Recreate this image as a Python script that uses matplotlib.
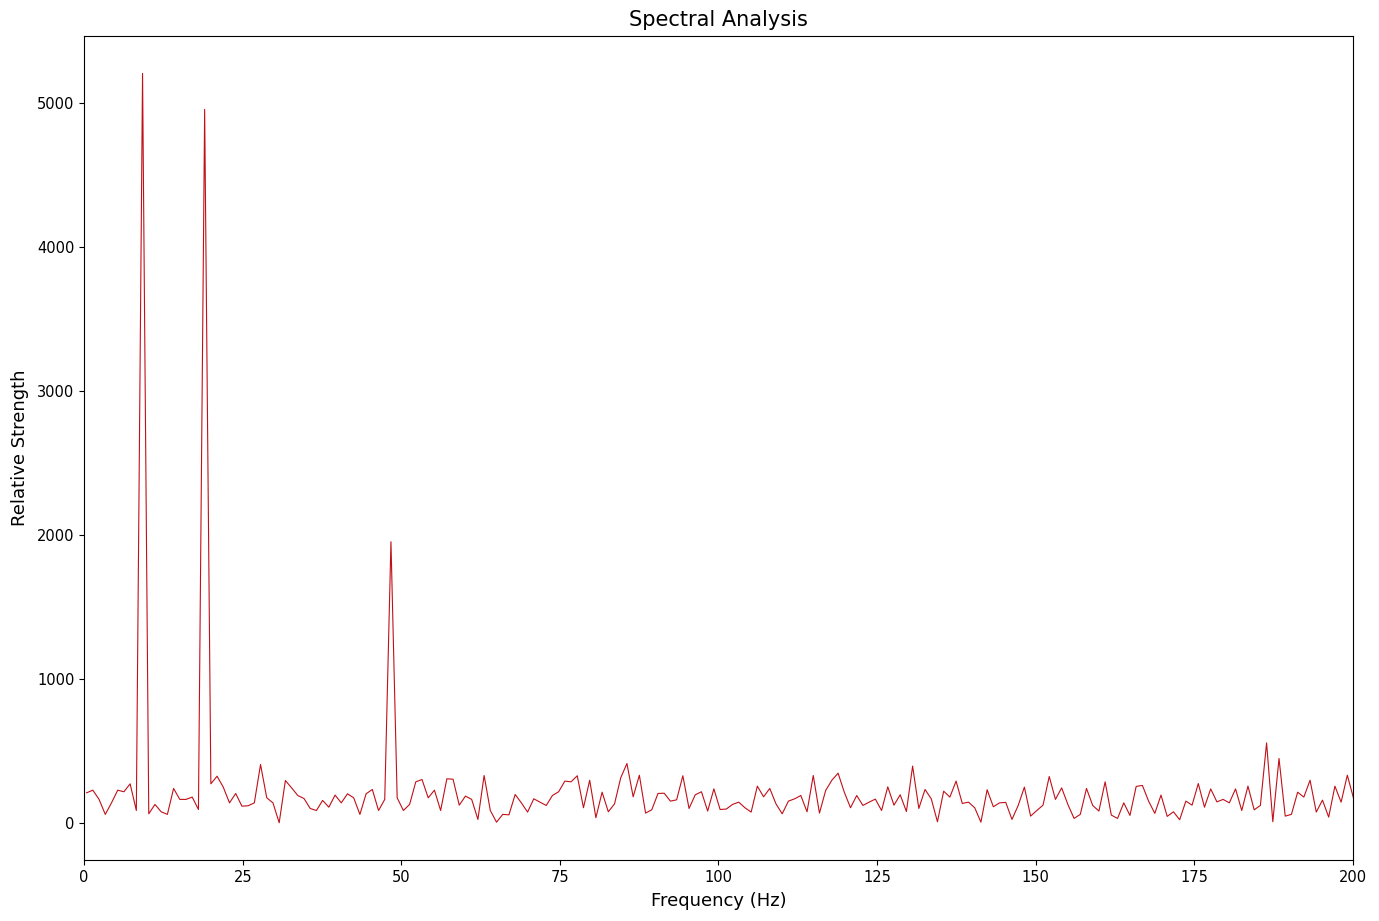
import numpy as np
import matplotlib
matplotlib.use("Agg")
import matplotlib.pyplot as plt

# frequency grid of the spectrum (Hz): first bin and bin width
f_start = 0.4
f_step = 0.979

# relative strength per frequency bin
strength = [
    213, 231, 167, 63, 143, 231, 220, 275, 90, 5205,
    67, 132, 81, 63, 243, 167, 167, 183, 97, 4955,
    275, 328, 252, 143, 208, 120, 123, 143, 409, 178,
    143, 5, 298, 247, 194, 173, 104, 90, 160, 113,
    197, 143, 206, 178, 63, 206, 236, 90, 167, 1955,
    178, 90, 132, 289, 305, 178, 231, 90, 310, 307,
    127, 190, 167, 28, 333, 90, 9, 63, 60, 201,
    143, 79, 171, 148, 125, 194, 220, 294, 289, 331,
    109, 300, 40, 217, 81, 136, 317, 416, 185, 335,
    72, 95, 208, 210, 155, 164, 331, 104, 199, 220,
    86, 240, 97, 100, 132, 148, 109, 79, 259, 185,
    243, 136, 67, 155, 171, 194, 81, 333, 72, 229,
    300, 349, 217, 109, 194, 125, 148, 169, 90, 254,
    127, 199, 83, 398, 104, 236, 171, 12, 224, 183,
    294, 139, 148, 109, 9, 234, 116, 143, 146, 28,
    125, 252, 51, 90, 127, 326, 167, 247, 132, 35,
    63, 243, 125, 86, 289, 58, 35, 143, 56, 257,
    264, 155, 70, 197, 49, 81, 26, 155, 127, 277,
    113, 240, 150, 167, 143, 240, 90, 259, 95, 125,
    559, 12, 451, 51, 63, 217, 183, 300, 79, 162,
    44, 259, 148, 335, 175,
]

freq = f_start + f_step * np.arange(len(strength))

fig, ax = plt.subplots(figsize=(13.79, 9.21), dpi=100)
fig.subplots_adjust(left=0.061, right=0.981, top=0.961, bottom=0.066)

ax.plot(freq, strength, color="#c01018", linewidth=0.8)

ax.set_xlim(0, 200)
ax.set_title("Spectral Analysis", fontsize=15, pad=7)
ax.set_xlabel("Frequency (Hz)", fontsize=13, labelpad=5)
ax.set_ylabel("Relative Strength", fontsize=13, labelpad=6)
ax.tick_params(labelsize=10.5)

fig.savefig("out.png", dpi=100)
